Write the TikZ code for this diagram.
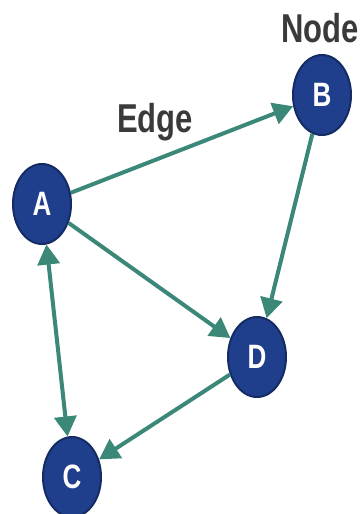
\documentclass[tikz,border=0pt]{standalone}
\usepackage{fontspec}
\setmainfont{Liberation Sans}
\usetikzlibrary{arrows.meta,shapes.geometric}
\definecolor{nodeblue}{HTML}{1F3F8C}
\definecolor{nodeline}{HTML}{142B63}
\definecolor{edgeteal}{HTML}{3B8878}
\definecolor{labelgray}{HTML}{3A3A3A}
\newcommand{\tall}[1]{\scalebox{1}[1.3]{#1}}
\begin{document}
\begin{tikzpicture}[x=1pt,y=-1pt,
  vertex/.style={ellipse,fill=nodeblue,draw=nodeline,line width=2pt,
    minimum width=58pt,minimum height=80pt,inner sep=0pt,text=white,
    font=\bfseries\fontsize{26}{26}\selectfont},
  link/.style={draw=edgeteal,line width=4pt,-{Triangle[length=20pt,width=22pt]}},
  tag/.style={text=labelgray,font=\bfseries\fontsize{31}{31}\selectfont},
  ]
\useasboundingbox (0,0) rectangle (360,514);
\node[vertex] (A) at (42,204) {\tall{A}};
\node[vertex] (B) at (322,95) {\tall{B}};
\node[vertex] (D) at (257,357) {\tall{D}};
\node[vertex] (C) at (72,477) {\tall{C}};
\node[tag,anchor=east,inner sep=1pt] (nodetag) at (360,28) {\tall{Node}};
\node[tag] (edgetag) at (155,122) {\tall{Edge}};

\draw[link] (A) -- (B);
\draw[link] (A) -- (D);
\draw[link] (B) -- (D);
\draw[link] (D) -- (C);
\draw[link,{Triangle[length=20pt,width=22pt]}-{Triangle[length=20pt,width=22pt]}] (A) -- (C);
\end{tikzpicture}
\end{document}
